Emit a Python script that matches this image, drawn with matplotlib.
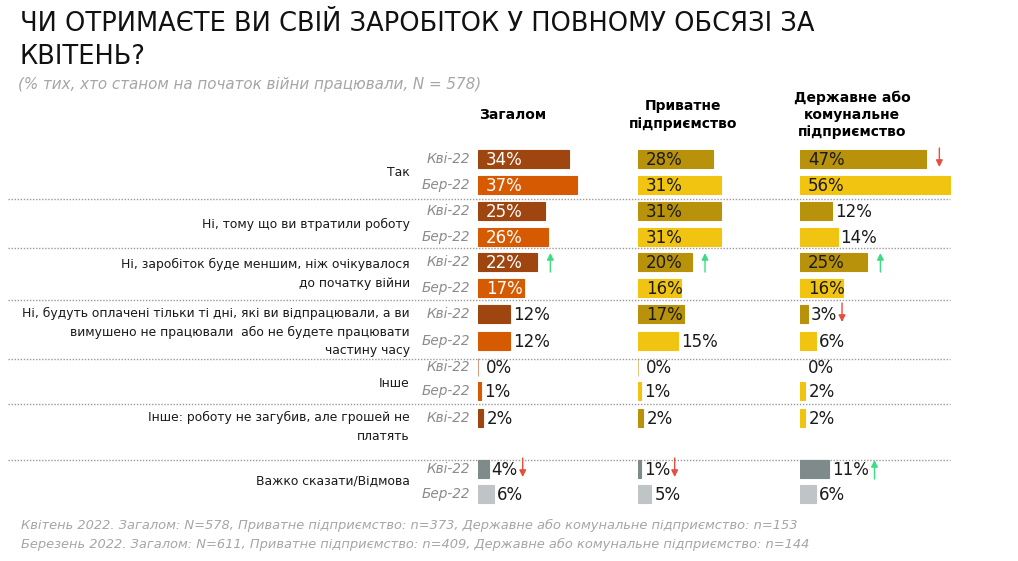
import matplotlib
matplotlib.use("Agg")
import matplotlib.pyplot as plt

# --- data ---
categories = [
    "Так",
    "Ні, тому що ви втратили роботу",
    "Ні, заробіток буде меншим, ніж очікувалося\nдо початку війни",
    "Ні, будуть оплачені тільки ті дні, які ви відпрацювали, а ви\nвимушено не працювали  або не будете працювати\nчастину часу",
    "Інше",
    "Інше: роботу не загубив, але грошей не\nплатять",
    "Важко сказати/Відмова",
]
periods = ["Кві-22", "Бер-22"]
panel_titles = ["Загалом", "Приватне\nпідприємство", "Державне або\nкомунальне\nпідприємство"]

apr_total = [34, 25, 22, 12, 0, 2, 4]
mar_total = [37, 26, 17, 12, 1, None, 6]
apr_private = [28, 31, 20, 17, 0, 2, 1]
mar_private = [31, 31, 16, 15, 1, None, 5]
apr_state = [47, 12, 25, 3, 0, 2, 11]
mar_state = [56, 14, 16, 6, 2, None, 6]

# change markers (April vs March)
arr_total = [None, None, "up", None, None, None, "down"]
arr_private = [None, None, "up", None, None, None, "down"]
arr_state = ["down", None, "up", "down", None, None, "up"]

title = "ЧИ ОТРИМАЄТЕ ВИ СВІЙ ЗАРОБІТОК У ПОВНОМУ ОБСЯЗІ ЗА\nКВІТЕНЬ?"
subtitle = "(% тих, хто станом на початок війни працювали, N = 578)"
footer = ["Квітень 2022. Загалом: N=578, Приватне підприємство: n=373, Державне або комунальне підприємство: n=153",
          "Березень 2022. Загалом: N=611, Приватне підприємство: n=409, Державне або комунальне підприємство: n=144"]

# --- layout (pixel coords) ---
W, H = 1018, 561
px_per_pct = 2.68
panel_x = [478, 638, 800]
panel_w = 170
apr_y = [159, 211, 262, 314, 367, 418, 469]
mar_y = [185, 237, 288, 341, 391, None, 494]
label_y = [172, 224, 274, 332, 383, 427, 481]
sep_y = [199, 248, 300, 359, 404, 460]
bar_h = 18

orange_apr, orange_mar = "#9E4510", "#D65A02"
gold_apr, gold_mar = "#B8920B", "#F2C412"
grey_apr, grey_mar = "#7F8A8B", "#BFC4C7"

plt.rcParams["font.family"] = ["DejaVu Sans"]

fig = plt.figure(figsize=(W / 100, H / 100), dpi=100)
bg = fig.add_axes([0, 0, 1, 1])
bg.set_xlim(0, W)
bg.set_ylim(H, 0)
bg.axis("off")

bg.text(20, 11, title, fontsize=18.5, va="top", ha="left",
        color="#111111", linespacing=1.35)
bg.text(18, 84, subtitle, fontsize=10.9, style="italic",
        color="#A6A6A6", va="center")

heads_x = [513, 683, 852]
for hx, t in zip(heads_x, panel_titles):
    bg.text(hx, 115, t, fontsize=10, fontweight="bold",
            ha="center", va="center", linespacing=1.3)

for ly, cat in zip(label_y, categories):
    bg.text(410, ly, cat, fontsize=8.9, ha="right", va="center",
            linespacing=1.55, color="#1a1a1a")
for ya, ym in zip(apr_y, mar_y):
    bg.text(470, ya, periods[0], fontsize=9.8, style="italic", color="#8C8C8C",
            ha="right", va="center")
    if ym is not None:
        bg.text(470, ym, periods[1], fontsize=9.8, style="italic", color="#8C8C8C",
                ha="right", va="center")

for sy in sep_y:
    bg.plot([8, 950], [sy, sy], ls=(0, (1, 1.2)), color="#9A9A9A", lw=1)

for i, line in enumerate(footer):
    bg.text(21, 525 + i * 19, line, fontsize=9.4, style="italic",
            color="#A6A6A6", va="center")

panels = [
    (apr_total, mar_total, arr_total, orange_apr, orange_mar, "white"),
    (apr_private, mar_private, arr_private, gold_apr, gold_mar, "#1a1a1a"),
    (apr_state, mar_state, arr_state, gold_apr, gold_mar, "#1a1a1a"),
]

for k, (apr, mar, arrs, c_apr, c_mar, in_col) in enumerate(panels):
    ax = fig.add_axes([panel_x[k] / W, 0, panel_w / W, 1])
    ax.set_xlim(0, panel_w / px_per_pct)
    ax.set_ylim(H, 0)
    ax.axis("off")
    ax.patch.set_alpha(0)

    for i in range(len(categories)):
        last = i == len(categories) - 1
        ca = grey_apr if last else c_apr
        cm = grey_mar if last else c_mar
        if k == 2 and i == 5:
            ca = gold_mar
        for v, y, c, arr in [(apr[i], apr_y[i], ca, arrs[i]),
                             (mar[i], mar_y[i], cm, None)]:
            if v is None:
                continue
            if v > 0 or k < 2:
                ax.barh(y, v, height=bar_h, color=c, edgecolor=c,
                        linewidth=0.8, alpha=1 if v > 0 else 0.5)
            lab = f"{v}%"
            inside = v >= 16
            if inside:
                ax.text(3, y + 1, lab, fontsize=12, color=in_col if not last else "#1a1a1a",
                        va="center", ha="left")
            else:
                lx = v + 1.1 if v > 0 else 3
                ax.text(lx, y + 1, lab, fontsize=12, color="#1a1a1a",
                        va="center", ha="left")
            if arr:
                if inside:
                    axx = v + 5
                else:
                    axx = v + (12 + len(lab) * 11) / px_per_pct
                col = "#3DDC84" if arr == "up" else "#E84C3D"
                y0, y1 = (y + 10, y - 9) if arr == "up" else (y - 11, y + 8)
                ax.annotate("", xy=(axx, y1), xytext=(axx, y0),
                            arrowprops=dict(arrowstyle="-|>", color=col, lw=1,
                                            mutation_scale=10, shrinkA=0, shrinkB=0))

fig.savefig("out.png", dpi=100)
